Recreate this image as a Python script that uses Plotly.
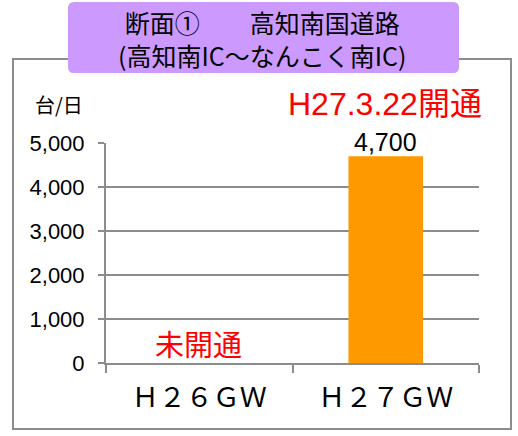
import plotly.graph_objects as go

categories = ["Ｈ２６ＧＷ", "Ｈ２７ＧＷ"]
values = [None, 4700]
value_labels = ["", "4,700"]
y_ticks = [0, 1000, 2000, 3000, 4000, 5000]
y_tick_labels = ["0", "1,000", "2,000", "3,000", "4,000", "5,000"]
title_lines = ["断面①　　高知南国道路", "(高知南IC～なんこく南IC)"]
unit_label = "台/日"
note_closed = "未開通"
note_open = "H27.3.22開通"

W, H = 518, 436
def px(x): return x / W
def py(y): return 1 - y / H

JP = "Noto Sans CJK JP"
AR = "Liberation Sans, Arial"
GRID = "#8c8c8c"

fig = go.Figure()
fig.add_trace(go.Bar(
    x=categories, y=values, marker_color="#FF9900", width=0.4,
))

# value labels above bars, positioned at the data value
for c, v, lab in zip(categories, values, value_labels):
    if v is not None and lab:
        fig.add_annotation(x=c, y=v, xref="x", yref="y", text=lab, showarrow=False,
                           xanchor="center", yanchor="bottom", yshift=-2,
                           font=dict(family=AR, size=25, color="black"))

# frame
fig.add_shape(type="rect", xref="paper", yref="paper",
              x0=px(13), x1=px(511), y0=py(429), y1=py(59),
              line=dict(color="#8c8c8c", width=2), fillcolor="white", layer="below")
# title box (rounded)
x0, x1, y0, y1, r = 68, 459, 2, 73, 6
path = (f"M {px(x0+r)},{py(y0)} L {px(x1-r)},{py(y0)} Q {px(x1)},{py(y0)} {px(x1)},{py(y0+r)} "
        f"L {px(x1)},{py(y1-r)} Q {px(x1)},{py(y1)} {px(x1-r)},{py(y1)} "
        f"L {px(x0+r)},{py(y1)} Q {px(x0)},{py(y1)} {px(x0)},{py(y1-r)} "
        f"L {px(x0)},{py(y0+r)} Q {px(x0)},{py(y0)} {px(x0+r)},{py(y0)} Z")
fig.add_shape(type="path", xref="paper", yref="paper", path=path,
              fillcolor="#CC99FF", line=dict(color="#CC99FF", width=0), layer="above")

def note(x, y, text, family, size, color):
    fig.add_annotation(xref="paper", yref="paper", x=px(x), y=py(y), text=text,
                       xanchor="center", yanchor="middle", showarrow=False,
                       font=dict(family=family, size=size, color=color))

note(262, 38, "<br>".join(title_lines), JP, 25, "black")
note(59, 104, unit_label, JP, 20, "black")
note(198, 343, note_closed, JP, 29, "#FF0000")
note(385, 104, note_open, AR + ", " + JP, 32, "#FF0000")

fig.update_layout(
    template="none",
    width=W, height=H, margin=dict(l=0, r=0, t=0, b=0, pad=0), autosize=False,
    paper_bgcolor="white", plot_bgcolor="white", showlegend=False,
    xaxis=dict(domain=[px(106), px(479)], type="category", tickson="boundaries",
               automargin=False,
               ticks="outside", ticklen=8, tickcolor=GRID, tickwidth=2,
               showline=True, linecolor=GRID, linewidth=2,
               showgrid=False, zeroline=False, ticklabelstandoff=10,
               tickfont=dict(family=JP, size=27, color="black")),
    yaxis=dict(domain=[py(363), py(143)], range=[0, 5000], automargin=False,
               tickvals=y_ticks, ticktext=y_tick_labels,
               ticks="outside", ticklen=6, tickcolor=GRID, tickwidth=2,
               showline=True, linecolor=GRID, linewidth=2,
               showgrid=True, gridcolor=GRID, gridwidth=1.5,
               zeroline=False, ticklabelstandoff=9,
               tickfont=dict(family=AR, size=22, color="black")),
)

fig.write_html("out.html", config={"responsive": False, "displayModeBar": False},
               post_script="document.body.style.margin='0';document.body.style.overflow='hidden';")
